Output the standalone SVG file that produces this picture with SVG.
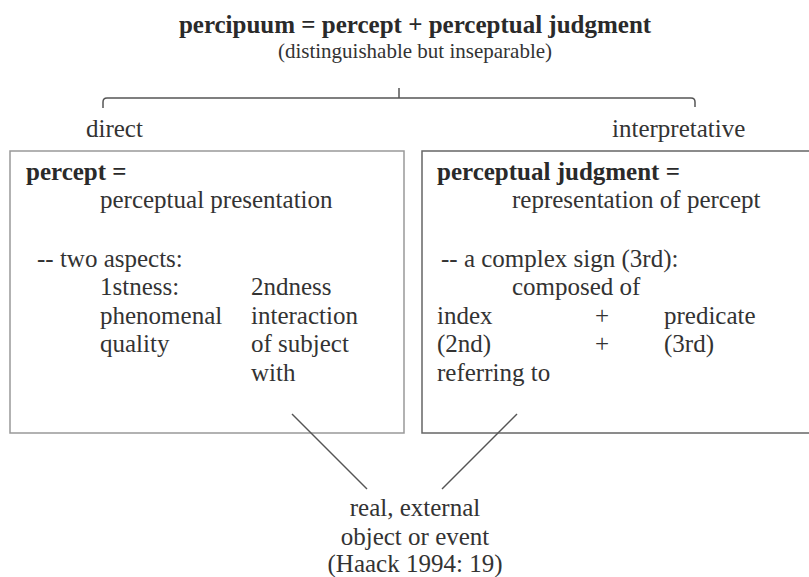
<svg xmlns="http://www.w3.org/2000/svg" width="809" height="577" viewBox="0 0 809 577" font-family="'Liberation Serif', 'Times New Roman', 'DejaVu Serif', serif">
<style>
text{font-family:'Liberation Serif','Times New Roman','DejaVu Serif',serif;fill:#333;font-size:25px}
.b{font-weight:bold;fill:#2a2a2a}
.c{text-anchor:middle}
.s{font-size:21px}
.box{fill:#fff;stroke-width:1.5}
.ln{stroke:#555;stroke-width:1.5;fill:none}
</style>
<rect width="809" height="577" fill="#fff"/>
<g id="title">
<text class="b c" x="415" y="33">percipuum = percept + perceptual judgment</text>
<text class="c s" x="415" y="58">(distinguishable but inseparable)</text>
</g>
<g id="bracket">
<path class="ln" d="M103,108 V102 Q103,98 107,98 H691 Q695,98 695,102 V107 M399,98 V88"/>
<text x="86" y="137">direct</text>
<text x="612" y="137">interpretative</text>
</g>
<g id="percept">
<rect class="box" x="10" y="151" width="394" height="282" stroke="#999"/>
<text class="b" x="26" y="180">percept =</text>
<text x="100" y="208">perceptual presentation</text>
<text x="37" y="267">-- two aspects:</text>
<text x="100" y="295">1stness:</text>
<text x="251" y="295">2ndness</text>
<text x="100" y="324">phenomenal</text>
<text x="251" y="324">interaction</text>
<text x="100" y="352">quality</text>
<text x="251" y="352">of subject</text>
<text x="251" y="381">with</text>
</g>
<g id="judgment">
<rect class="box" x="422" y="151" width="400" height="282" stroke="#666"/>
<text class="b" x="437" y="180">perceptual judgment =</text>
<text x="512" y="208">representation of percept</text>
<text x="441" y="267">-- a complex sign (3rd):</text>
<text x="512" y="295">composed of</text>
<text x="437" y="324">index</text>
<text x="595" y="324">+</text>
<text x="664" y="324">predicate</text>
<text x="437" y="352">(2nd)</text>
<text x="595" y="352">+</text>
<text x="664" y="352">(3rd)</text>
<text x="437" y="381">referring to</text>
</g>
<g id="connectors">
<line class="ln" x1="292" y1="414" x2="367" y2="489"/>
<line class="ln" x1="517" y1="414" x2="442" y2="489"/>
</g>
<g id="object">
<text class="c" x="415" y="516">real, external</text>
<text class="c" x="415" y="545">object or event</text>
<text class="c" x="415" y="572">(Haack 1994: 19)</text>
</g>
</svg>
